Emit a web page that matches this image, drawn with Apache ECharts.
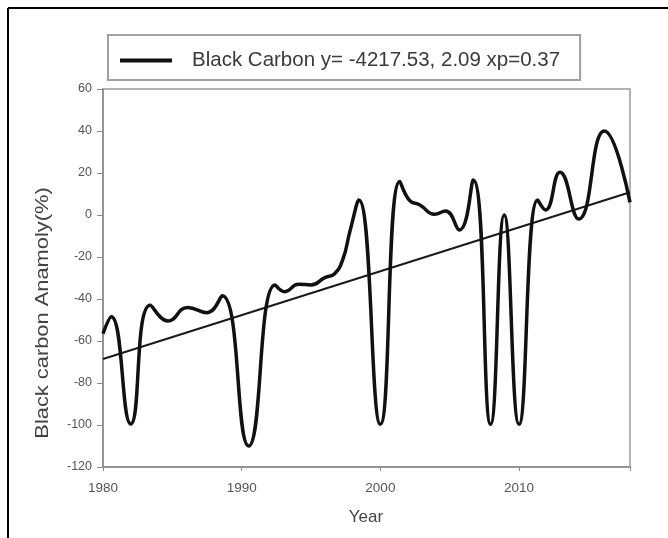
<!DOCTYPE html>
<html>
<head>
<meta charset="utf-8">
<script src="https://cdn.jsdelivr.net/npm/echarts@6/dist/echarts.min.js"></script>
<style>
html,body{margin:0;padding:0;background:#fff;}
#chart{width:668px;height:538px;}
</style>
</head>
<body>
<div id="chart"></div>
<script>
// ---- data ----
const years = [1980, 1980.6, 1982.0, 1983.4, 1984.7, 1986.1, 1987.5, 1988.6, 1990.5, 1992.4, 1993.1, 1994.1, 1995.0, 1996.0, 1996.7, 1997.3, 1997.8, 1998.45, 2000.0, 2001.4, 2002.1, 2002.85, 2003.9, 2004.7, 2005.7, 2006.7, 2007.95, 2008.93, 2010.0, 2011.34, 2011.9, 2012.95, 2014.3, 2016.15, 2018];
const anomaly = [-56.5, -48.5, -99.5, -43, -50.5, -44, -46.5, -38.5, -110, -33.3, -36.5, -33, -33.3, -29.8, -28, -21, -7.9, 7.1, -99.7, 16, 7, 4.8, 0.3, 1.9, -7.1, 16.7, -99.7, 0, -99.7, 7.1, 2.4, 20.3, -1.9, 40, 6];
const trendYears = [1980, 2018];
const trendValues = [-68.6, 10.8];
const xTicks = [1980, 1990, 2000, 2010];
const yTicks = [-120, -100, -80, -60, -40, -20, 0, 20, 40, 60];
const seriesName = 'Black Carbon';
const legendLabel = 'Black Carbon y= -4217.53, 2.09 xp=0.37';
const xTitle = 'Year';
const yTitle = 'Black carbon Anamoly(%)';

const FONT = 'Liberation Sans, Arial, sans-serif';
const chart = echarts.init(document.getElementById('chart'), null, {renderer: 'canvas'});

const option = {
  backgroundColor: '#fff',
  animation: false,
  grid: {left: 103, right: 38, top: 89, bottom: 71, show: true, borderColor: '#9a9a9a', borderWidth: 1.5, backgroundColor: 'transparent'},
  legend: {
    left: 108, top: 35,
    data: [seriesName],
    formatter: () => legendLabel,
    icon: 'rect',
    itemWidth: 52, itemHeight: 4,
    padding: [15, 20, 9, 12],
    borderColor: '#a0a0a0', borderWidth: 2,
    textStyle: {fontSize: 20.5, fontFamily: FONT, color: '#3a3a3a', padding: [0, 0, 0, 15]}
  },
  xAxis: {
    type: 'value', min: xTicks[0], max: 2018, interval: 10,
    axisLine: {show: true, onZero: false, lineStyle: {color: '#8a8a8a', width: 1.5}},
    axisTick: {show: true, inside: false, length: 4, lineStyle: {color: '#8a8a8a'}},
    splitLine: {show: false},
    axisLabel: {fontSize: 13.5, fontFamily: FONT, color: '#555', margin: 14,
      formatter: v => xTicks.indexOf(v) >= 0 ? String(v) : ''}
  },
  yAxis: {
    type: 'value', min: yTicks[0], max: yTicks[yTicks.length - 1], interval: 20,
    axisLine: {show: true, onZero: false, lineStyle: {color: '#8a8a8a', width: 1.5}},
    axisTick: {show: true, inside: false, length: 6, lineStyle: {color: '#8a8a8a'}},
    splitLine: {show: false},
    axisLabel: {fontSize: 12.5, fontFamily: FONT, color: '#555', margin: 11}
  },
  graphic: [
    {type: 'line', shape: {x1: 8, y1: 8, x2: 668, y2: 8}, style: {stroke: '#000', lineWidth: 2}},
    {type: 'line', shape: {x1: 8, y1: 8, x2: 8, y2: 538}, style: {stroke: '#000', lineWidth: 2}},
    {type: 'text', x: 366, y: 517, style: {text: xTitle, font: '17px ' + FONT, fill: '#444', textAlign: 'center', textVerticalAlign: 'middle'}},
    {type: 'text', x: 43, y: 313, rotation: Math.PI / 2, scaleX: 1.15,
      style: {text: yTitle, font: '19px ' + FONT, fill: '#444', textAlign: 'center', textVerticalAlign: 'middle'}}
  ],
  series: [
    {
      name: seriesName, type: 'line',
      data: years.map((y, i) => [y, anomaly[i]]),
      smooth: 0.5,
      showSymbol: false,
      lineStyle: {color: '#111', width: 3.5},
      itemStyle: {color: '#111'},
      z: 3
    },
    {
      name: 'trend', type: 'line',
      data: trendYears.map((y, i) => [y, trendValues[i]]),
      showSymbol: false,
      lineStyle: {color: '#1a1a1a', width: 2},
      z: 2
    }
  ]
};
chart.setOption(option);
</script>
</body>
</html>
